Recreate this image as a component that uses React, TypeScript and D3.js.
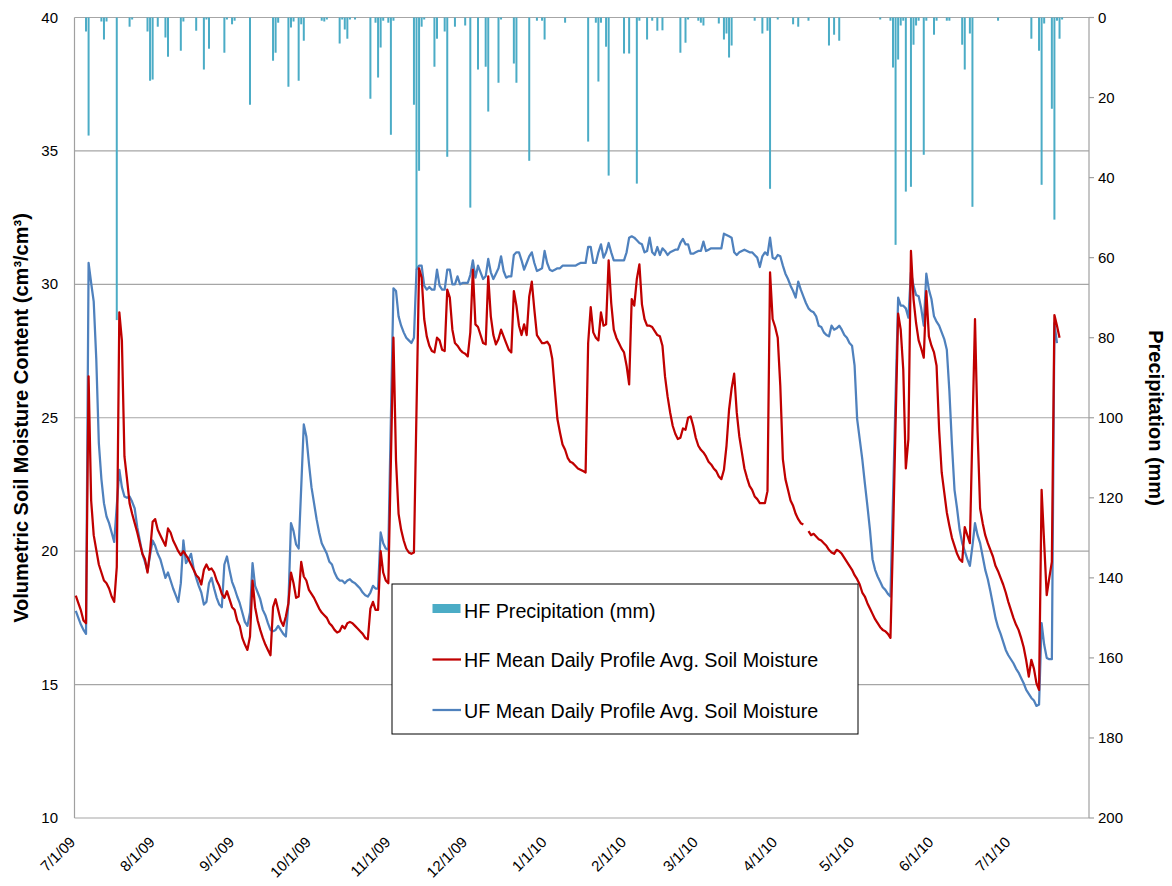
import React from 'react';
import * as d3 from 'd3';

// ---- Data (daily values starting 7/1/2009, index = day offset) ----
const hfSoilMoisture: (number | null)[] = [
  18.33, 18.05, 17.78, 17.4, 17.3, 26.55, 21.9, 20.6, 20.05, 19.5,
  19.2, 18.9, 18.8, 18.6, 18.3, 18.1, 19.4, 28.95, 27.9, 23.55,
  22.7, 21.8, 21.4, 21.05, 20.7, 20.3, 19.9, 19.7, 19.2, 20.0,
  21.1, 21.2, 20.8, 20.6, 20.4, 20.2, 20.85, 20.7, 20.4, 20.2,
  20.0, 19.85, 20.0, 19.85, 19.7, 19.5, 19.3, 19.1, 19.0, 18.75,
  19.3, 19.5, 19.3, 19.35, 19.2, 18.9, 18.7, 18.4, 18.25, 18.5,
  18.2, 17.9, 17.8, 17.4, 17.2, 16.75, 16.5, 16.3, 16.8, 18.9,
  17.9, 17.4, 17.05, 16.75, 16.5, 16.3, 16.1, 17.9, 18.2, 17.8,
  17.4, 17.2, 17.55, 18.05, 19.2, 18.8, 18.25, 18.3, 19.6, 19.05,
  18.9, 18.55, 18.4, 18.25, 18.05, 17.85, 17.7, 17.6, 17.5, 17.3,
  17.2, 17.05, 16.95, 17.0, 17.2, 17.1, 17.3, 17.35, 17.3, 17.2,
  17.1, 17.0, 16.9, 16.75, 16.7, 17.85, 18.1, 17.8, 17.8, 20.0,
  19.2, 18.9, 18.8, 23.4, 28.0, 23.4, 21.4, 20.8, 20.4, 20.1,
  19.95, 19.9, 19.95, 25.3, 30.6, 30.25, 28.7, 28.05, 27.7, 27.5,
  27.45, 28.0, 27.9, 27.55, 27.5, 29.8, 29.5, 28.3, 27.8, 27.7,
  27.55, 27.45, 27.4, 27.3, 28.2, 30.55, 28.5, 28.4, 28.1, 27.8,
  27.75, 30.3, 28.8, 28.1, 27.75, 27.95, 28.3, 28.05, 27.8, 27.55,
  27.45, 29.75, 29.2, 28.45, 28.1, 28.5, 28.1, 29.55, 30.1, 29.05,
  28.1, 27.95, 27.8, 27.8, 27.85, 27.7, 27.2, 26.05, 24.95, 24.45,
  24.0, 23.8, 23.5, 23.35, 23.3, 23.2, 23.1, 23.05, 23.0, 22.95,
  27.8, 29.15, 28.2, 28.0, 27.9, 28.95, 28.45, 28.5, 30.9, 29.3,
  28.3, 28.0, 27.8, 27.6, 27.45, 26.95, 26.25, 29.45, 29.2, 30.2,
  30.75, 29.25, 28.7, 28.45, 28.45, 28.4, 28.25, 28.1, 28.05, 27.7,
  26.55, 25.8, 25.2, 24.7, 24.4, 24.2, 24.25, 24.6, 24.55, 25.0,
  25.05, 24.7, 24.25, 23.95, 23.8, 23.7, 23.55, 23.35, 23.25, 23.1,
  23.0, 22.8, 22.7, 23.05, 23.95, 25.3, 26.1, 26.65, 25.2, 24.3,
  23.7, 23.1, 22.75, 22.45, 22.3, 22.05, 21.95, 21.8, 21.8, 21.8,
  22.25, 30.45, 28.7, 28.4, 28.0, 26.2, 23.45, 22.7, 22.3, 21.9,
  21.7, 21.4, 21.2, 21.05, 21.0, null, 20.75, 20.6, 20.65, 20.55,
  20.45, 20.4, 20.3, 20.2, 20.05, 19.95, 19.9, 20.05, 20.0, 19.9,
  19.75, 19.6, 19.45, 19.3, 19.1, 18.95, 18.75, 18.45, 18.3, 18.05,
  17.85, 17.65, 17.45, 17.3, 17.15, 17.05, 17.0, 16.9, 16.75, 20.5,
  24.8, 28.9, 28.3, 26.8, 23.1, 24.2, 31.25, 29.45, 28.55, 27.9,
  27.6, 27.25, 29.75, 28.05, 27.7, 27.45, 26.95, 24.55, 22.95, 22.2,
  21.45, 20.95, 20.5, 20.2, 19.9, 19.7, 19.6, 20.9, 20.6, 20.3,
  24.5, 28.7, 24.5, 21.6, 21.05, 20.6, 20.3, 20.05, 19.8, 19.45,
  19.25, 19.0, 18.75, 18.45, 18.1, 17.8, 17.5, 17.25, 17.05, 16.75,
  16.4, 15.9, 15.3, 15.93, 15.6, 15.05, 14.8, 22.3, 20.3, 18.35,
  19.0, 19.6, 28.85, 28.45, 28.0,
];

const ufSoilMoisture: number[] = [
  17.76, 17.5, 17.25, 17.05, 16.9, 30.8, 30.05, 29.35, 27.2, 24.05,
  22.7, 21.8, 21.3, 21.05, 20.7, 20.35, 21.7, 23.05, 22.4, 22.05,
  22.0, 22.05, 21.85, 21.6, 20.9, 20.4, 19.9, 19.6, 19.25, 19.85,
  20.4, 20.2, 19.9, 19.7, 19.35, 19.0, 19.2, 18.9, 18.6, 18.35,
  18.1, 18.8, 20.4, 19.55, 19.7, 19.9, 19.35, 19.0, 18.7, 18.45,
  18.0, 18.1, 18.8, 19.0, 18.6, 18.25, 18.0, 17.9, 19.5, 19.8,
  19.3, 18.85, 18.6, 18.3, 18.05, 17.7, 17.35, 17.2, 17.7, 19.55,
  18.7, 18.45, 18.2, 17.8, 17.6, 17.3, 17.05, 17.0, 17.05, 17.2,
  17.05, 16.9, 16.8, 18.05, 21.05, 20.75, 20.25, 20.1, 22.4, 24.75,
  24.3, 23.3, 22.4, 21.8, 21.2, 20.7, 20.3, 20.1, 19.9, 19.6,
  19.5, 19.2, 19.0, 18.9, 18.9, 18.8, 18.9, 18.95, 18.85, 18.8,
  18.7, 18.6, 18.45, 18.35, 18.3, 18.45, 18.7, 18.6, 18.6, 20.7,
  20.3, 20.1, 20.05, 25.0, 29.85, 29.75, 28.8, 28.45, 28.2, 28.0,
  27.9, 27.8, 28.0, 30.55, 30.7, 30.7, 29.95, 29.8, 29.9, 29.8,
  29.8, 30.55, 29.95, 29.8, 29.8, 30.55, 30.55, 30.0, 30.0, 30.3,
  30.0, 30.05, 30.05, 30.05, 30.35, 30.9, 30.25, 30.7, 30.45, 30.2,
  30.3, 30.95, 30.45, 30.2, 30.4, 30.6, 31.05, 30.5, 30.25, 30.3,
  30.3, 31.1, 31.2, 31.2, 30.9, 30.55, 30.8, 31.05, 31.2, 30.8,
  30.5, 30.55, 30.6, 31.25, 30.8, 30.55, 30.5, 30.55, 30.6, 30.6,
  30.7, 30.7, 30.7, 30.7, 30.7, 30.7, 30.75, 30.8, 30.8, 30.8,
  31.4, 31.4, 30.8, 30.8, 31.2, 31.5, 31.0, 31.2, 31.55, 31.2,
  30.9, 30.9, 30.9, 30.9, 30.9, 31.2, 31.75, 31.8, 31.75, 31.65,
  31.55, 31.5, 31.2, 31.25, 31.75, 31.2, 31.1, 31.4, 31.1, 31.35,
  31.25, 31.1, 31.2, 31.25, 31.3, 31.3, 31.55, 31.7, 31.5, 31.5,
  31.15, 31.15, 31.2, 31.25, 31.25, 31.6, 31.25, 31.3, 31.35, 31.35,
  31.35, 31.35, 31.35, 31.9, 31.85, 31.8, 31.75, 31.2, 31.1, 31.2,
  31.25, 31.3, 31.25, 31.2, 31.2, 31.1, 31.0, 30.65, 31.05, 31.2,
  31.1, 31.75, 31.0, 30.95, 31.1, 31.05, 30.7, 30.4, 30.2, 29.95,
  29.75, 29.5, 30.1, 29.8, 29.55, 29.3, 29.1, 29.0, 28.95, 28.8,
  28.45, 28.4, 28.2, 28.1, 28.05, 28.45, 28.3, 28.35, 28.45, 28.3,
  28.1, 28.0, 27.8, 27.7, 26.95, 24.95, 24.2, 23.45, 22.55, 21.7,
  20.8, 19.7, 19.3, 19.05, 18.85, 18.65, 18.55, 18.4, 18.3, 22.0,
  25.8, 29.5, 29.2, 29.2, 29.1, 28.75, 30.45, 29.95, 29.6, 29.55,
  29.1, 28.45, 30.4, 29.8, 29.45, 28.8, 28.6, 28.45, 28.2, 27.95,
  27.55, 26.0, 24.0, 22.3, 21.6, 20.8, 20.3, 20.0, 19.7, 19.45,
  20.2, 21.05, 20.6, 20.3, 19.8, 19.3, 18.95, 18.5, 18.0, 17.5,
  17.15, 16.9, 16.6, 16.3, 16.1, 15.95, 15.8, 15.6, 15.45, 15.25,
  15.05, 14.8, 14.65, 14.5, 14.4, 14.2, 14.25, 17.3, 16.5, 16.0,
  15.95, 15.95, 28.55, 27.8,
];

// precipitation: day offset from 7/1/2009 and amount (mm)
const precipDays: number[] = [
  4, 5, 10, 11, 12, 16, 21, 22, 28, 29, 30, 32, 35, 36, 41, 42, 47, 50, 51, 52,
  58, 59, 61, 62, 68, 77, 78, 79, 83, 84, 85, 87, 88, 89, 96, 97, 98, 103, 104, 105,
  106, 107, 109, 115, 117, 118, 119, 120, 122, 123, 124, 132, 133, 134, 135, 136, 140, 141, 144, 145,
  148, 152, 154, 157, 160, 161, 165, 166, 171, 172, 177, 180, 182, 183, 191, 200, 203, 204, 205, 207,
  208, 214, 216, 219, 220, 223, 225, 227, 229, 236, 238, 239, 243, 244, 245, 251, 253, 254, 255, 256,
  265, 268, 270, 271, 274, 280, 282, 286, 294, 296, 298, 314, 318, 319, 320, 321, 322, 323, 324, 326,
  327, 328, 329, 331, 332, 335, 336, 340, 341, 346, 347, 349, 350, 360, 373, 376, 377, 378, 381, 382,
  383, 384, 385,
];
const precipMm: number[] = [
  3.5, 29.5, 1, 5.5, 1, 75.6, 2.3, 0.5, 3.5, 15.8, 15.5, 2.3, 5, 9.8, 8.3, 1, 3.3, 13, 0.5, 7.8,
  8.8, 0.5, 1.7, 0.8, 21.8, 10.8, 8.8, 1.3, 17.3, 2.5, 1, 15.8, 1.7, 5.8, 0.8, 1, 0.5, 6.5, 0.5, 3,
  5.3, 0.5, 0.5, 20.3, 1.3, 15, 7.5, 0.8, 1.3, 29.3, 0.8, 21.8, 63, 38.3, 2.3, 0.5, 12.3, 5.3, 3.5, 34.8,
  2.3, 2, 47.5, 13, 12.3, 23.5, 16.3, 0.5, 11.5, 16.3, 35.8, 0.8, 0.8, 5.5, 1.3, 31, 1.3, 16, 1.3, 7.3,
  39.5, 9, 9, 41.5, 0.8, 5.5, 0.8, 3.3, 3.2, 8.8, 6.3, 0.5, 0.8, 1.3, 2, 1.5, 5.5, 4, 10, 7,
  0.8, 4, 3.3, 42.8, 0.5, 1.7, 2.3, 0.8, 7, 4.3, 5.8, 0.5, 0.8, 12.5, 56.8, 10.5, 2, 0.8, 43.5, 42.3,
  6.8, 2, 0.8, 34.3, 0.8, 4.3, 0.8, 0.8, 0.8, 6.8, 13, 4, 47.3, 0.8, 5.3, 8.3, 41.8, 1.5, 22.8, 50.5,
  0.8, 5.3, 0.5,
];

const leftTicks: number[] = [10, 15, 20, 25, 30, 35, 40];
const rightTicks: number[] = [0, 20, 40, 60, 80, 100, 120, 140, 160, 180, 200];
const monthTicks: Date[] = d3.range(0, 13).map((m) => new Date(2009, 6 + m, 1));

const seriesNames = {
  precip: 'HF Precipitation (mm)',
  hf: 'HF Mean Daily Profile Avg. Soil Moisture',
  uf: 'UF Mean Daily Profile Avg. Soil Moisture',
};

const dayToDate = (n: number) => new Date(2009, 6, 1 + n);

export default function App() {
  const W = 1172;
  const H = 886;
  const left = 74.5;
  const right = 1089;
  const top = 17.5;
  const bottom = 818;

  const x = d3
    .scaleTime()
    .domain([new Date(2009, 5, 30, 12), new Date(2010, 6, 31, 12)])
    .range([left, right]);
  const yL = d3.scaleLinear().domain([10, 40]).range([bottom, top]);
  const yR = d3.scaleLinear().domain([0, 200]).range([top, bottom]);

  const line = d3
    .line<number | null>()
    .defined((d) => d != null)
    .x((_, i) => x(dayToDate(i)))
    .y((d) => yL(d as number));

  const font = '"Liberation Sans", Arial, sans-serif';
  const fmt = (d: Date) => `${d.getMonth() + 1}/${d.getDate()}/${String(d.getFullYear()).slice(2)}`;

  const legX = 392;
  const legY = 584;
  const legFont = 19.7;

  return (
    <svg
      width={W}
      height={H}
      style={{ position: 'absolute', left: 0, top: 0, background: '#fff' }}
      fontFamily={font}
    >
      <rect x={0} y={0} width={W} height={H} fill="#fff" />
      {/* gridlines */}
      {leftTicks.map((t) => (
        <line key={'g' + t} x1={left} x2={right} y1={yL(t)} y2={yL(t)} stroke="#a6a6a6" strokeWidth={1.2} />
      ))}
      {/* axes lines */}
      <line x1={left} x2={left} y1={top} y2={bottom} stroke="#a0a0a0" strokeWidth={1.2} />
      <line x1={right} x2={right} y1={top} y2={bottom} stroke="#a0a0a0" strokeWidth={1.2} />
      {rightTicks.map((t) => (
        <line key={'rt' + t} x1={right} x2={right + 5} y1={yR(t)} y2={yR(t)} stroke="#a0a0a0" strokeWidth={1.2} />
      ))}
      {/* precipitation bars */}
      {precipDays.map((d, i) => (
        <rect
          key={'p' + i}
          x={x(dayToDate(d)) - 1}
          y={yR(0)}
          width={2}
          height={yR(precipMm[i]) - yR(0)}
          fill="#4bacc6"
        />
      ))}
      {/* lines */}
      <path d={line(ufSoilMoisture) || ''} fill="none" stroke="#4f81bd" strokeWidth={2.25} strokeLinejoin="round" />
      <path d={line(hfSoilMoisture) || ''} fill="none" stroke="#c00000" strokeWidth={2.25} strokeLinejoin="round" />

      {/* left tick labels */}
      {leftTicks.map((t) => (
        <text key={'lt' + t} x={58} y={yL(t) + 5} textAnchor="end" fontSize={15} fill="#000">
          {t}
        </text>
      ))}
      {/* right tick labels */}
      {rightTicks.map((t) => (
        <text key={'rl' + t} x={1098} y={yR(t) + 5} textAnchor="start" fontSize={15} fill="#000">
          {t}
        </text>
      ))}
      {/* date labels */}
      {monthTicks.map((d, i) => {
        const px = x(d) + 0.5;
        const py = 843;
        return (
          <text
            key={'dt' + i}
            x={px}
            y={py}
            textAnchor="end"
            fontSize={15}
            transform={`rotate(-45 ${px} ${py})`}
            fill="#000"
          >
            {fmt(d)}
          </text>
        );
      })}
      {/* axis titles */}
      <text
        transform="translate(28 418) rotate(-90)"
        textAnchor="middle"
        fontSize={20}
        fontWeight="bold"
        fill="#000"
      >
        Volumetric Soil Moisture Content (cm³/cm³)
      </text>
      <text
        transform="translate(1149 418) rotate(90)"
        textAnchor="middle"
        fontSize={20}
        fontWeight="bold"
        fill="#000"
      >
        Precipitation (mm)
      </text>

      {/* legend */}
      <rect x={legX} y={legY} width={466} height={150} fill="#fff" stroke="#000" strokeWidth={1} />
      <rect x={432.5} y={604} width={28} height={9} fill="#4bacc6" />
      <text x={464} y={618} fontSize={legFont} fill="#000">{seriesNames.precip}</text>
      <line x1={432.5} x2={461} y1={659.5} y2={659.5} stroke="#c00000" strokeWidth={2.25} />
      <text x={464} y={667} fontSize={legFont} fill="#000">{seriesNames.hf}</text>
      <line x1={432.5} x2={461} y1={710} y2={710} stroke="#4f81bd" strokeWidth={2.25} />
      <text x={464} y={718} fontSize={legFont} fill="#000">{seriesNames.uf}</text>
    </svg>
  );
}
